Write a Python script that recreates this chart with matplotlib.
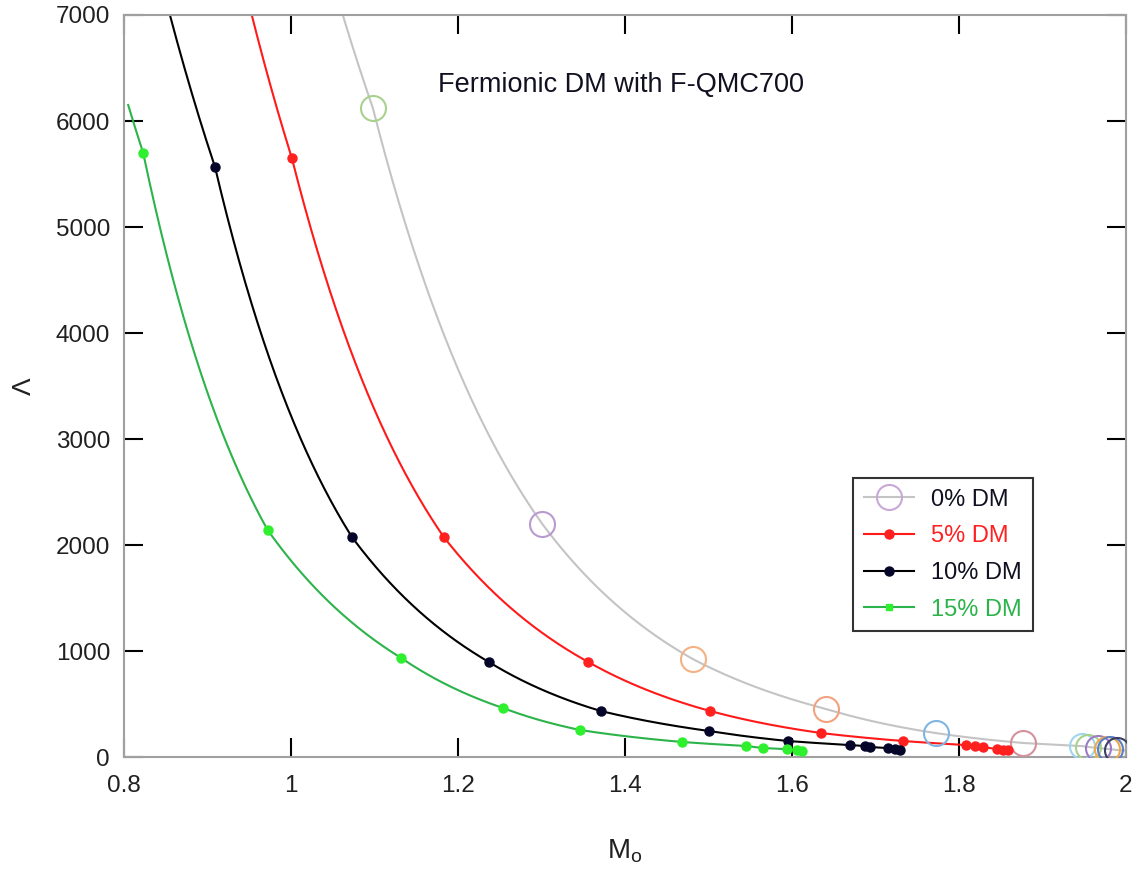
import numpy as np
import matplotlib as mpl
mpl.use('Agg')
from matplotlib import pyplot as plt
from matplotlib.lines import Line2D

# 0% DM (open circles, grey curve)
m_0 = [1.098, 1.301, 1.481, 1.641, 1.772, 1.877, 1.947, 1.955, 1.966, 1.977, 1.981, 1.989]
lam_0 = [6123, 2198, 925, 453, 226, 132, 104, 94, 85, 75, 75, 66]
# 5% DM
m_5 = [1.001, 1.183, 1.356, 1.502, 1.635, 1.733, 1.808, 1.819, 1.829, 1.846, 1.853, 1.859]
lam_5 = [5651, 2075, 896, 434, 226, 151, 113, 104, 94, 75, 66, 66]
# 10% DM
m_10 = [0.909, 1.073, 1.237, 1.371, 1.501, 1.595, 1.669, 1.687, 1.693, 1.715, 1.723, 1.729]
lam_10 = [5566, 2075, 896, 434, 245, 151, 113, 104, 94, 85, 75, 66]
# 15% DM
m_15 = [0.823, 0.972, 1.132, 1.254, 1.346, 1.468, 1.545, 1.565, 1.594, 1.606, 1.612]
lam_15 = [5698, 2142, 934, 462, 255, 142, 104, 85, 75, 66, 57]

# where each fitted curve starts (top edge / first drawn point) and ends
curve_start = {'0': (1.062, 7000), '5': (0.953, 7000), '10': (0.855, 7000), '15': (0.805, 6151)}
curve_end = {'0': (2.0, 60)}

circle_colors = ['#a9d18e', '#b99ad0', '#f4b183', '#f2a27e', '#7fb5e0', '#d4909c',
                 '#9fd5ef', '#a9d18e', '#9b7cc4', '#f0a848', '#5b7fc4', '#3a3f66']

plt.rcParams['font.family'] = ['Liberation Sans', 'DejaVu Sans']


def smooth(m, lam, start, end=None):
    xs = [start[0]] + list(m)
    ys = [start[1]] + list(lam)
    if end is not None:
        xs.append(end[0])
        ys.append(end[1])
    grid = np.linspace(xs[0], xs[-1], 600)
    return grid, np.exp(np.interp(grid, xs, np.log(ys)))


fig = plt.figure(figsize=(11.37, 8.71), dpi=100)
ax = fig.add_axes([124 / 1137, 114 / 871, 1002 / 1137, 742 / 871])

x, y = smooth(m_0, lam_0, curve_start['0'], curve_end['0'])
ax.plot(x, y, color='#c4c4c4', lw=1.5, zorder=2)
for mi, li, c in zip(m_0, lam_0, circle_colors):
    ax.plot(mi, li, 'o', ms=18, mfc='none', mec=c, mew=1.5, zorder=3)

x, y = smooth(m_5, lam_5, curve_start['5'])
ax.plot(x, y, color='#ff1a1a', lw=1.5, zorder=2)
ax.plot(m_5, lam_5, 'o', ms=6.5, color='#ff2020', zorder=3)

x, y = smooth(m_10, lam_10, curve_start['10'])
ax.plot(x, y, color='#000000', lw=1.5, zorder=2)
ax.plot(m_10, lam_10, 'o', ms=6.5, color='#05052a', zorder=3)

x, y = smooth(m_15, lam_15, curve_start['15'])
ax.plot(x, y, color='#2cb34a', lw=1.5, zorder=2)
ax.plot(m_15, lam_15, 'o', ms=6.5, color='#2ef02e', zorder=3)

ax.set_xlim(0.8, 2.0)
ax.set_ylim(0, 7000)
ax.set_xticks([0.8, 1, 1.2, 1.4, 1.6, 1.8, 2])
ax.set_xticklabels(['0.8', '1', '1.2', '1.4', '1.6', '1.8', '2'])
ax.set_yticks(range(0, 7001, 1000))
ax.tick_params(direction='in', length=14, width=1.5, color='black',
               top=True, right=True, labelsize=17.5, labelcolor='#202020')
ax.tick_params(axis='y', pad=10)
ax.tick_params(axis='x', pad=13)
for s in ax.spines.values():
    s.set_color('#a0a0a0')
    s.set_linewidth(1.5)

ax.set_xlabel(r'M$_\mathregular{o}$', fontsize=20, color='#202020', labelpad=29)
ax.set_ylabel('Λ', fontsize=19, color='#202020', labelpad=14)

ax.text(0.496, 0.906, 'Fermionic DM with F-QMC700', transform=ax.transAxes,
        ha='center', va='center', fontsize=19.5, color='#101020')

handles = [
    Line2D([], [], color='#c4c4c4', lw=1.5, marker='o', ms=18, mfc='none', mec='#c8a8d8', mew=1.5),
    Line2D([], [], color='#ff1a1a', lw=1.5, marker='o', ms=6.5, mfc='#ff2020', mec='#ff2020'),
    Line2D([], [], color='#000000', lw=1.5, marker='o', ms=6.5, mfc='#05052a', mec='#05052a'),
    Line2D([], [], color='#2cb34a', lw=1.5, marker='s', ms=5, mfc='#2ef02e', mec='#2ef02e'),
]
leg = ax.legend(handles, ['0% DM', '5% DM', '10% DM', '15% DM'],
                loc='upper left', bbox_to_anchor=(0.728, 0.376), borderaxespad=0,
                fontsize=17, frameon=True, fancybox=False, handlelength=2.1,
                handletextpad=0.75, labelspacing=0.62, borderpad=0.45)
leg.get_frame().set_edgecolor('black')
leg.get_frame().set_linewidth(1.5)
for t, c in zip(leg.get_texts(), ['#101020', '#ff2020', '#101020', '#2cb34a']):
    t.set_color(c)

plt.savefig('out.png', dpi=100)
